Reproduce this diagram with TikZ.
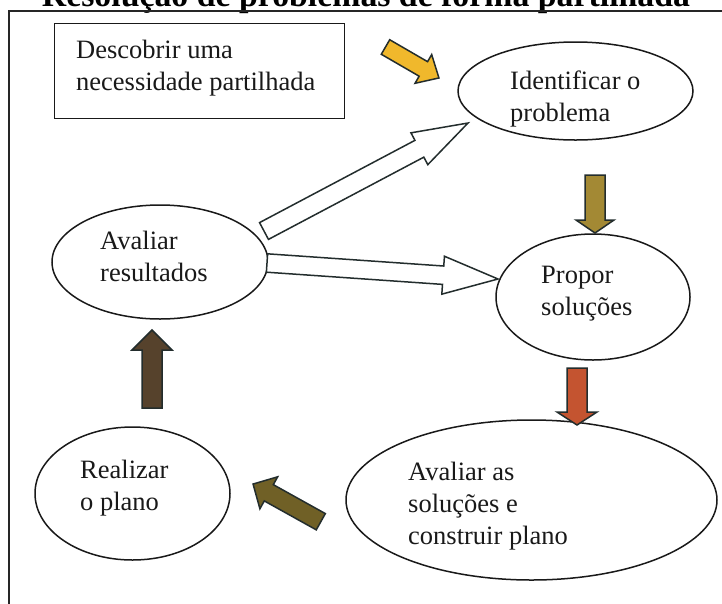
\documentclass[tikz,border=0pt]{standalone}
\usepackage{fontspec}
\setmainfont{Liberation Serif}
\usetikzlibrary{shapes.geometric}
\definecolor{arrline}{RGB}{35,45,45}
\definecolor{cyellow}{RGB}{240,184,44}
\definecolor{cgold}{RGB}{163,137,52}
\definecolor{cbrick}{RGB}{196,84,48}
\definecolor{colive}{RGB}{112,96,38}
\definecolor{cbrown}{RGB}{86,66,44}
\newcommand\blockarrow[6]{%
  \pgfpointdiff{\pgfpointanchor{#2}{center}}{\pgfpointanchor{#3}{center}}%
  \pgfgetlastxy\baDx\baDy
  \pgfmathsetmacro\baAng{atan2(\baDy,\baDx)}%
  \pgfmathsetmacro\baLen{veclen(\baDx,\baDy)}%
  \pgfmathsetmacro\baBase{\baLen-#6}%
  \begin{scope}[shift={(#2)},rotate=\baAng]
    \draw[#1] (0pt,-#4pt) -- (\baBase pt,-#4pt) -- (\baBase pt,-#5pt) -- (\baLen pt,0pt) -- (\baBase pt,#5pt) -- (\baBase pt,#4pt) -- (0pt,#4pt) -- cycle;
  \end{scope}}
\tikzset{
  ell/.style={ellipse, draw=black!90, line width=1.5pt, inner sep=0pt, outer sep=0pt},
  txt/.style={font=\fontsize{26.5}{32}\selectfont, align=left, inner sep=0pt, anchor=base west, text=black!90},
  barr/.style={draw=arrline, line width=1.5pt, line join=miter},
  warr/.style={barr, fill=white},
}
\begin{document}
\begin{tikzpicture}[x=1pt,y=-1pt]
\useasboundingbox (0,0) rectangle (722,603);
\clip (0,0) rectangle (722,603);
\fill[white] (0,0) rectangle (722,603);
% title and frame
\node[font=\bfseries\fontsize{33.8}{40}\selectfont, anchor=base, inner sep=0pt] (title) at (366,6.5) {Resolução de problemas de forma partilhada};
\draw[line width=1.2pt, black!85] (9,615) -- (9,11) -- (730,11);
% box (anchor base west = baseline of last line)
\node[draw=black!90, line width=1.4pt, minimum width=290pt, minimum height=95pt, inner sep=0pt, anchor=north west] (need) at (54,23) {};
\node[txt] (needtxt) at (76,90) {Descobrir uma\\necessidade partilhada};
% ellipses
\node[ell, minimum width=235pt, minimum height=98pt] (ident) at (575.5,91) {};
\node[txt] (identtxt) at (510,121) {Identificar o\\problema};
\node[ell, minimum width=194pt, minimum height=126pt] (prop) at (593,297) {};
\node[txt] (proptxt) at (541,315) {Propor\\soluções};
\node[ell, minimum width=216pt, minimum height=114pt] (res) at (160,262) {};
\node[txt] (restxt) at (100,281) {Avaliar\\resultados};
\node[ell, minimum width=371pt, minimum height=160pt] (aval) at (531.5,500) {};
\node[txt] (avaltxt) at (408,544) {Avaliar as\\soluções e\\construir plano};
\node[ell, minimum width=195pt, minimum height=133pt] (real) at (132.5,493.5) {};
\node[txt] (realtxt) at (80,510) {Realizar\\o plano};
% arrow end points
\coordinate (ys) at (385.5,47);   \coordinate (ye) at (439,78);
\coordinate (gs) at (595,175);    \coordinate (ge) at (595,233);
\coordinate (bs) at (577,368);    \coordinate (be) at (577,425);
\coordinate (os) at (320.8,521.7);\coordinate (oe) at (253,484);
\coordinate (ds) at (152,408);    \coordinate (de) at (152,330);
\coordinate (w1s) at (264,231);   \coordinate (w1e) at (468,123);
\coordinate (w2s) at (267,263);   \coordinate (w2e) at (498,279);
% arrows
\blockarrow{barr, fill=cyellow}{ys}{ye}{8.4}{16.6}{18}
\blockarrow{barr, fill=cgold}{gs}{ge}{10}{19}{13}
\blockarrow{barr, fill=cbrick}{bs}{be}{10}{20}{13}
\blockarrow{barr, fill=colive}{os}{oe}{9.3}{18.3}{18}
\blockarrow{barr, fill=cbrown}{ds}{de}{10}{20}{20}
\blockarrow{warr}{w1s}{w1e}{9.5}{18}{55}
\blockarrow{warr}{w2s}{w2e}{9.2}{19}{55}
\end{tikzpicture}
\end{document}
